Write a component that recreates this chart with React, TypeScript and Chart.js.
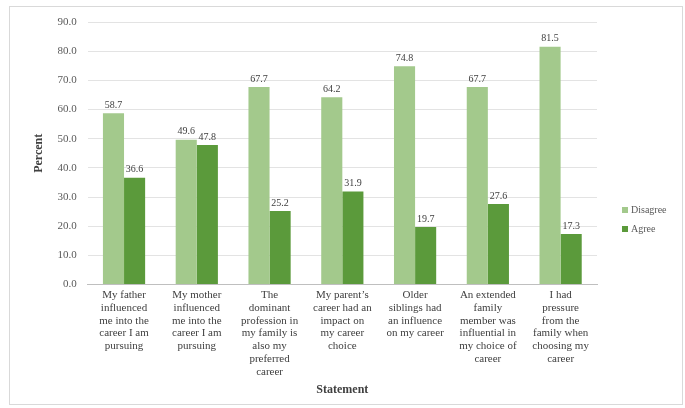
import React, { useEffect, useRef } from "react";
import { Chart, registerables } from "chart.js";

Chart.register(...registerables);

const categories: string[][] = [
  ["My father", "influenced", "me into the", "career I am", "pursuing"],
  ["My mother", "influenced", "me into the", "career I am", "pursuing"],
  ["The", "dominant", "profession in", "my family is", "also my", "preferred", "career"],
  ["My parent\u2019s", "career had an", "impact on", "my career", "choice"],
  ["Older", "siblings had", "an influence", "on my career"],
  ["An extended", "family", "member was", "influential in", "my choice of", "career"],
  ["I had", "pressure", "from the", "family when", "choosing my", "career"],
];
const disagree: number[] = [58.7, 49.6, 67.7, 64.2, 74.8, 67.7, 81.5];
const agree: number[] = [36.6, 47.8, 25.2, 31.9, 19.7, 27.6, 17.3];
const seriesNames: string[] = ["Disagree", "Agree"];
const yTitle = "Percent";
const xTitle = "Statement";

const COL_DIS = "#a3c98c";
const COL_AGR = "#5b9a3b";
const SERIF = "'Liberation Serif', 'DejaVu Serif', serif";

const valueLabels = {
  id: "valueLabels",
  afterDatasetsDraw(chart: any) {
    const ctx = chart.ctx;
    ctx.save();
    ctx.font = `10px ${SERIF}`;
    ctx.fillStyle = "#404040";
    ctx.textAlign = "center";
    ctx.textBaseline = "bottom";
    chart.data.datasets.forEach((ds: any, i: number) => {
      const meta = chart.getDatasetMeta(i);
      meta.data.forEach((el: any, j: number) => {
        ctx.fillText(Number(ds.data[j]).toFixed(1), el.x, el.y - 3);
      });
    });
    ctx.restore();
  },
};

const customLegend = {
  id: "customLegend",
  afterDraw(chart: any) {
    const ctx = chart.ctx;
    ctx.save();
    ctx.font = `10px ${SERIF}`;
    ctx.textBaseline = "middle";
    ctx.textAlign = "left";
    const x = chart.chartArea.right + 25;
    const y0 = 210;
    chart.data.datasets.forEach((ds: any, i: number) => {
      const y = y0 + i * 19;
      ctx.fillStyle = ds.backgroundColor;
      ctx.fillRect(x, y - 3, 6, 6);
      ctx.fillStyle = "#595959";
      ctx.fillText(ds.label, x + 9, y);
    });
    ctx.restore();
  },
};

const frame = {
  id: "frame",
  beforeDraw(chart: any) {
    const ctx = chart.ctx;
    ctx.save();
    ctx.fillStyle = "#ffffff";
    ctx.fillRect(0, 0, chart.width, chart.height);
    ctx.strokeStyle = "#d9d9d9";
    ctx.lineWidth = 1;
    ctx.strokeRect(9.5, 6.5, chart.width - 12, chart.height - 10);
    ctx.restore();
  },
};

export default function App() {
  const ref = useRef<HTMLCanvasElement>(null);
  useEffect(() => {
    document.body.style.margin = "0";
    const chart = new Chart(ref.current!, {
      type: "bar",
      data: {
        labels: categories,
        datasets: [
          { label: seriesNames[0], data: disagree, backgroundColor: COL_DIS, categoryPercentage: 0.58, barPercentage: 1 },
          { label: seriesNames[1], data: agree, backgroundColor: COL_AGR, categoryPercentage: 0.58, barPercentage: 1 },
        ],
      },
      options: {
        animation: false,
        responsive: false,
        devicePixelRatio: 1,
        layout: { padding: { left: 28, right: 88, top: 22, bottom: 11 } },
        plugins: { legend: { display: false }, tooltip: { enabled: false } },
        scales: {
          x: {
            grid: { display: false, drawTicks: false },
            border: { color: "#bfbfbf" },
            ticks: {
              font: { family: SERIF, size: 11, lineHeight: 1.17 },
              color: "#404040",
              padding: 4,
              maxRotation: 0,
              autoSkip: false,
            },
            title: {
              display: true,
              text: xTitle,
              font: { family: SERIF, size: 12, weight: "bold" },
              color: "#404040",
              padding: { top: 0, bottom: 0 },
            },
          },
          y: {
            min: 0,
            max: 90,
            grid: { color: "#e3e3e3", drawTicks: false },
            border: { display: false },
            ticks: {
              stepSize: 10,
              font: { family: SERIF, size: 11 },
              color: "#595959",
              padding: 11,
              callback: (v: any) => Number(v).toFixed(1),
            },
            title: {
              display: true,
              text: yTitle,
              font: { family: SERIF, size: 12, weight: "bold" },
              color: "#404040",
              padding: { top: 4, bottom: 0 },
            },
          },
        },
      },
      plugins: [frame, valueLabels, customLegend],
    });
    return () => chart.destroy();
  }, []);
  return (
    <div style={{ width: 685, height: 408 }}>
      <canvas ref={ref} width={685} height={408} style={{ display: "block" }} />
    </div>
  );
}
